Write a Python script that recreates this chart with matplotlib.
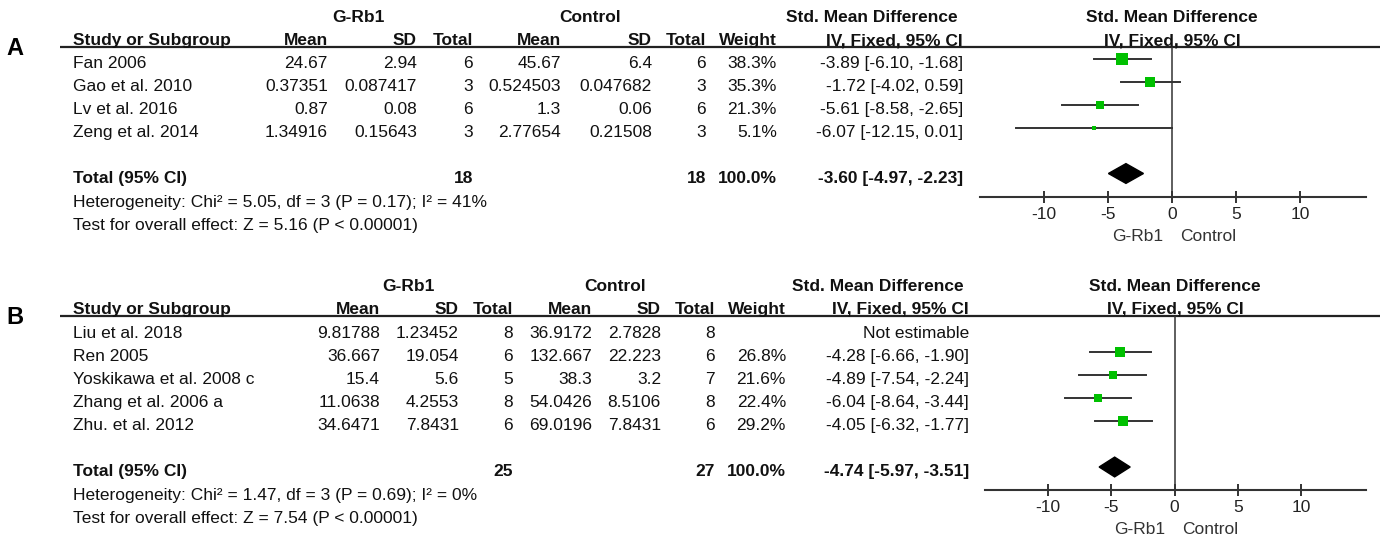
import numpy as np
import matplotlib
matplotlib.use("Agg")
import matplotlib.pyplot as plt
from matplotlib.patches import Polygon

plt.rcParams['font.family'] = ['Liberation Sans', 'DejaVu Sans']
plt.rcParams['axes.unicode_minus'] = False

#############################################################################
# Panel A data
a_study = ["Fan 2006", "Gao et al. 2010", "Lv et al. 2016", "Zeng et al. 2014"]
a_t_mean = [24.67, 0.37351, 0.87, 1.34916]
a_t_sd = [2.94, 0.087417, 0.08, 0.15643]
a_t_n = [6, 3, 6, 3]
a_c_mean = [45.67, 0.524503, 1.3, 2.77654]
a_c_sd = [6.4, 0.047682, 0.06, 0.21508]
a_c_n = [6, 3, 6, 3]
a_weight = [38.3, 35.3, 21.3, 5.1]
a_smd = [-3.89, -1.72, -5.61, -6.07]
a_lo = [-6.10, -4.02, -8.58, -12.15]
a_hi = [-1.68, 0.59, -2.65, 0.01]
a_totals = [18, 18]
a_pooled = [-3.60, -4.97, -2.23]
a_het = "Heterogeneity: Chi² = 5.05, df = 3 (P = 0.17); I² = 41%"
a_test = "Test for overall effect: Z = 5.16 (P < 0.00001)"

# Panel B data
b_study = ["Liu et al. 2018", "Ren 2005", "Yoskikawa et al. 2008 c",
           "Zhang et al. 2006 a", "Zhu. et al. 2012"]
b_t_mean = [9.81788, 36.667, 15.4, 11.0638, 34.6471]
b_t_sd = [1.23452, 19.054, 5.6, 4.2553, 7.8431]
b_t_n = [8, 6, 5, 8, 6]
b_c_mean = [36.9172, 132.667, 38.3, 54.0426, 69.0196]
b_c_sd = [2.7828, 22.223, 3.2, 8.5106, 7.8431]
b_c_n = [8, 6, 7, 8, 6]
b_weight = [np.nan, 26.8, 21.6, 22.4, 29.2]
b_smd = [np.nan, -4.28, -4.89, -6.04, -4.05]
b_lo = [np.nan, -6.66, -7.54, -8.64, -6.32]
b_hi = [np.nan, -1.90, -2.24, -3.44, -1.77]
b_totals = [25, 27]
b_pooled = [-4.74, -5.97, -3.51]
b_het = "Heterogeneity: Chi² = 1.47, df = 3 (P = 0.69); I² = 0%"
b_test = "Test for overall effect: Z = 7.54 (P < 0.00001)"

ticks = [-10, -5, 0, 5, 10]

#############################################################################

W, H = 1382, 548
FS = 12.5
ROW = 23
TXT = '#111111'
GREEN = '#00c000'

fig = plt.figure(figsize=(W / 100, H / 100), dpi=100)
ax0 = fig.add_axes([0, 0, 1, 1])
ax0.set_xlim(0, W)
ax0.set_ylim(H, 0)
ax0.axis('off')


def txt(x, y, s, ha='right', bold=False, **kw):
    # y is visual centre of the cap height
    ax0.text(x, y + 6, s, ha=ha, va='baseline', fontsize=FS, color=TXT,
             fontweight='bold' if bold else 'normal', **kw)


def panel(tag, study, t_mean, t_sd, t_n, c_mean, c_sd, c_n, weight, smd, lo, hi,
          totals, pooled, het, test, lay):
    y0, yline, cols = lay['row0'], lay['line'], lay['cols']
    n = len(study)

    ax0.text(15, yline + 8, tag, ha='center', va='baseline', fontsize=17,
             fontweight='bold', color='black')

    # headers
    h1, h2 = yline - 31, yline - 8
    txt(lay['g_t'], h1, "G-Rb1", ha='center', bold=True)
    txt(lay['g_c'], h1, "Control", ha='center', bold=True)
    txt(lay['g_smd'], h1, "Std. Mean Difference", ha='center', bold=True)
    txt(lay['zero'], h1, "Std. Mean Difference", ha='center', bold=True)
    txt(73, h2, "Study or Subgroup", ha='left', bold=True)
    for x, s in zip(cols, ["Mean", "SD", "Total", "Mean", "SD", "Total",
                           "Weight", "IV, Fixed, 95% CI"]):
        txt(x, h2, s, bold=True)
    txt(lay['zero'], h2, "IV, Fixed, 95% CI", ha='center', bold=True)
    ax0.plot([60, 1380], [yline, yline], color='#222222', lw=1.6,
             solid_capstyle='butt')

    # study rows
    for i in range(n):
        y = y0 + i * ROW
        txt(73, y, study[i], ha='left')
        if np.isnan(smd[i]):
            w_s, ci_s = "", "Not estimable"
        else:
            w_s = f"{weight[i]:.1f}%"
            ci_s = f"{smd[i]:.2f} [{lo[i]:.2f}, {hi[i]:.2f}]"
        vals = [str(t_mean[i]), str(t_sd[i]), str(t_n[i]), str(c_mean[i]),
                str(c_sd[i]), str(c_n[i]), w_s, ci_s]
        for x, v in zip(cols, vals):
            txt(x, y, v)

    # total row
    yt = y0 + (n + 1) * ROW
    txt(73, yt, "Total (95% CI)", ha='left', bold=True)
    txt(cols[2], yt, str(totals[0]), bold=True)
    txt(cols[5], yt, str(totals[1]), bold=True)
    txt(cols[6], yt, "100.0%", bold=True)
    txt(cols[7], yt, f"{pooled[0]:.2f} [{pooled[1]:.2f}, {pooled[2]:.2f}]", bold=True)
    txt(73, yt + 24, het, ha='left')
    txt(73, yt + 47, test, ha='left')

    # forest plot
    fy0 = lay['frow0']
    fx0, fx1, ybot = lay['fx0'], lay['fx1'], lay['axis']
    ax = fig.add_axes([fx0 / W, 1 - ybot / H, (fx1 - fx0) / W, (ybot - yline) / H])
    ax.patch.set_alpha(0)
    ax.set_xlim(-15, 15.15)
    ax.set_ylim((ybot - fy0) / ROW, (yline - fy0) / ROW)
    ax.axvline(0, color='#333333', lw=1.1, zorder=1)
    for i in range(n):
        if np.isnan(smd[i]):
            continue
        ax.plot([lo[i], hi[i]], [i, i], color='#333333', lw=1.4, zorder=2)
        side = 1.78 * np.sqrt(weight[i]) * 0.72
        ax.scatter([smd[i]], [i], marker='s', s=side ** 2, color=GREEN,
                   linewidths=0, zorder=3)
    d = n + 1
    ax.add_patch(Polygon([(pooled[1], d), (pooled[0], d - 0.43),
                          (pooled[2], d), (pooled[0], d + 0.43)],
                         closed=True, color='black', zorder=3))
    for s in ['top', 'left', 'right']:
        ax.spines[s].set_visible(False)
    ax.spines['bottom'].set_color('#333333')
    ax.spines['bottom'].set_linewidth(1.5)
    ax.set_yticks([])
    ax.set_xticks(ticks)
    ax.set_xticklabels([str(t) for t in ticks])
    ax.tick_params(axis='x', direction='inout', length=8, width=1.4,
                   color='#333333', pad=3.5, labelsize=FS, labelcolor='#222222')
    ax.annotate("G-Rb1", xy=(-0.7, 0), xycoords=('data', 'axes fraction'),
                xytext=(0, -44 * 0.72), textcoords='offset points',
                ha='right', va='baseline', fontsize=FS, color='#333333')
    ax.annotate("Control", xy=(0.6, 0), xycoords=('data', 'axes fraction'),
                xytext=(0, -44 * 0.72), textcoords='offset points',
                ha='left', va='baseline', fontsize=FS, color='#333333')


panel("A", a_study, a_t_mean, a_t_sd, a_t_n, a_c_mean, a_c_sd, a_c_n,
      a_weight, a_smd, a_lo, a_hi, a_totals, a_pooled, a_het, a_test,
      dict(row0=62, frow0=58.5, line=47, axis=197, fx0=980, fx1=1366, zero=1172,
           cols=[328, 417, 473, 561, 652, 706, 777, 963],
           g_t=358, g_c=590, g_smd=872))

panel("B", b_study, b_t_mean, b_t_sd, b_t_n, b_c_mean, b_c_sd, b_c_n,
      b_weight, b_smd, b_lo, b_hi, b_totals, b_pooled, b_het, b_test,
      dict(row0=332, frow0=329, line=316, axis=490, fx0=985, fx1=1366, zero=1175,
           cols=[380, 459, 513, 592, 661, 715, 786, 969],
           g_t=408, g_c=615, g_smd=878))

fig.savefig("out.png", dpi=100)
